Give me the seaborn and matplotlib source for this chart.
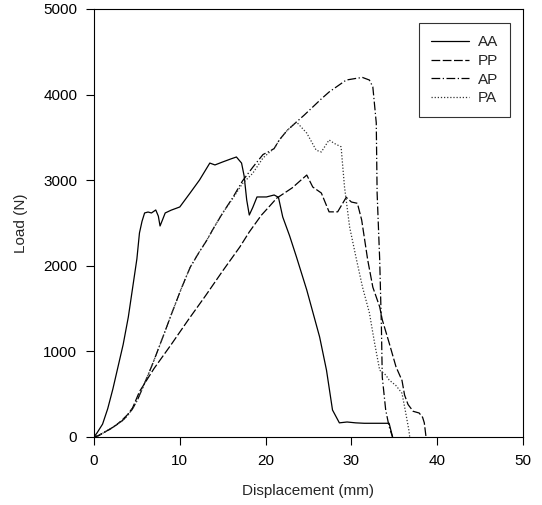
import matplotlib
matplotlib.use("Agg")
import matplotlib.pyplot as plt
import pandas as pd
import seaborn as sns

# Load-displacement curves
aa_disp = [0, 0.35, 1.0, 1.6, 2.2, 2.8, 3.4, 4.0, 4.5, 5.0, 5.3, 5.6, 5.9, 6.3,
           6.7, 7.2, 7.5, 7.7, 8.0, 8.3, 9.0, 10.0, 11.2, 12.3, 13.5, 14.1, 15.0,
           16.0, 16.6, 17.2, 17.5, 17.8, 18.1, 18.5, 19.0, 20.1, 21.0, 21.5, 22.0,
           22.8, 23.6, 24.8, 26.3, 27.1, 27.8, 28.6, 29.5, 30.5, 31.5, 32.5, 33.5,
           34.4, 34.6, 34.8]
aa_load = [0, 47, 150, 330, 560, 820, 1080, 1400, 1740, 2080, 2383, 2520, 2617,
           2628, 2617, 2652, 2580, 2465, 2540, 2617, 2650, 2687, 2850, 3002, 3200,
           3178, 3213, 3250, 3271, 3200, 3050, 2769, 2593, 2680, 2804, 2804, 2827,
           2800, 2570, 2350, 2103, 1717, 1168, 780, 315, 165, 175, 165, 160, 160,
           160, 160, 80, 0]

pp_disp = [0, 0.5, 1.3, 2.0, 2.6, 3.3, 3.9, 4.5, 5.3, 7.0, 9.0, 11.0, 13.0, 15.0,
           17.0, 18.1, 19.5, 20.5, 21.3, 22.2, 23.1, 24.0, 24.8, 25.5, 26.5, 27.4,
           28.4, 29.4, 30.0, 30.7, 31.2, 31.9, 32.5, 33.3, 33.6, 34.4, 35.2, 35.9,
           36.2, 36.6, 37.2, 37.9, 38.3, 38.5, 38.7]
pp_load = [0, 15, 60, 100, 140, 200, 260, 340, 530, 800, 1080, 1370, 1650, 1940,
           2220, 2395, 2590, 2700, 2790, 2850, 2910, 2990, 3060, 2920, 2850, 2630,
           2630, 2800, 2745, 2730, 2535, 2070, 1750, 1520, 1370, 1100, 820, 660,
           490, 380, 300, 280, 230, 165, 0]

ap_disp = [0, 0.5, 1.3, 2.0, 2.6, 3.3, 3.9, 4.5, 5.1, 5.7, 6.7, 7.7, 9.2, 10.2,
           11.2, 12.2, 13.1, 14.0, 15.0, 16.2, 17.3, 18.5, 19.7, 20.5, 21.0, 21.6,
           22.5, 23.6, 24.5, 25.5, 26.5, 27.4, 28.4, 29.4, 30.0, 30.6, 31.3, 32.1,
           32.5, 32.9, 33.0, 33.3, 33.5, 33.6, 34.0, 34.4, 34.8]
ap_load = [0, 15, 60, 100, 140, 190, 250, 330, 440, 580, 820, 1080, 1480, 1740,
           1980, 2150, 2290, 2450, 2617, 2800, 2990, 3150, 3300, 3340, 3370, 3470,
           3580, 3680, 3760, 3855, 3950, 4030, 4100, 4170, 4180, 4190, 4200, 4170,
           4090, 3670, 2850, 2070, 1290, 700, 315, 120, 0]

pa_disp = [0, 0.5, 1.3, 2.0, 2.6, 3.3, 3.9, 4.5, 5.1, 5.7, 6.7, 7.7, 9.2, 10.2,
           11.2, 12.2, 13.1, 14.0, 15.0, 16.2, 17.3, 18.5, 19.7, 20.5, 21.0, 21.6,
           22.5, 23.6, 24.8, 25.9, 26.5, 27.4, 28.0, 28.8, 29.2, 29.8, 30.6, 31.3,
           32.1, 32.7, 33.3, 34.0, 34.4, 35.2, 35.6, 35.9, 36.3, 36.7, 36.8]
pa_load = [0, 15, 60, 100, 140, 190, 250, 330, 440, 580, 820, 1080, 1480, 1740,
           1980, 2150, 2290, 2450, 2617, 2790, 2960, 3080, 3260, 3330, 3370, 3470,
           3580, 3680, 3550, 3350, 3330, 3470, 3430, 3390, 2920, 2450, 2070, 1750,
           1450, 1100, 780, 725, 666, 600, 550, 510, 300, 80, 0]

specimens = ["AA", "PP", "AP", "PA"]

frames = []
for name, xs, ys in [("AA", aa_disp, aa_load), ("PP", pp_disp, pp_load),
                     ("AP", ap_disp, ap_load), ("PA", pa_disp, pa_load)]:
    frames.append(pd.DataFrame({"disp": xs, "load": ys, "specimen": name}))
df = pd.concat(frames, ignore_index=True)

sns.set_style("ticks")
plt.rcParams["font.family"] = ["Liberation Sans", "DejaVu Sans"]

fig = plt.figure(figsize=(5.42, 5.05), dpi=100)
ax = fig.add_axes([0.1734, 0.1347, 0.7915, 0.8475])

sns.lineplot(
    data=df,
    x="disp",
    y="load",
    hue="specimen",
    style="specimen",
    hue_order=specimens,
    style_order=specimens,
    palette={"AA": "black", "PP": "black", "AP": "black", "PA": "#333333"},
    dashes={"AA": "", "PP": (7, 2), "AP": (7, 2, 1, 2), "PA": (1, 1.5)},
    sort=False,
    estimator=None,
    linewidth=0.9,
    ax=ax,
)

ax.set_xlim(0, 50)
ax.set_ylim(0, 5000)
ax.set_xticks([0, 10, 20, 30, 40, 50])
ax.set_yticks([0, 1000, 2000, 3000, 4000, 5000])
ax.set_xlabel("Displacement (mm)", fontsize=11, labelpad=12)
ax.set_ylabel("Load (N)", fontsize=11, labelpad=11)
ax.tick_params(direction="out", length=6, width=0.8, pad=6, labelsize=11,
               colors="black")
for spine in ax.spines.values():
    spine.set_linewidth(0.8)
    spine.set_color("black")

handles, labels = ax.get_legend_handles_labels()
leg = ax.legend(
    handles,
    labels,
    loc="upper right",
    bbox_to_anchor=(0.970, 0.967),
    frameon=True,
    fancybox=False,
    edgecolor="black",
    fontsize=11,
    handlelength=2.5,
    handletextpad=0.55,
    borderpad=0.8,
    labelspacing=0.3,
    borderaxespad=0,
)
leg.get_frame().set_linewidth(0.8)

fig.savefig("out.png", dpi=100)
